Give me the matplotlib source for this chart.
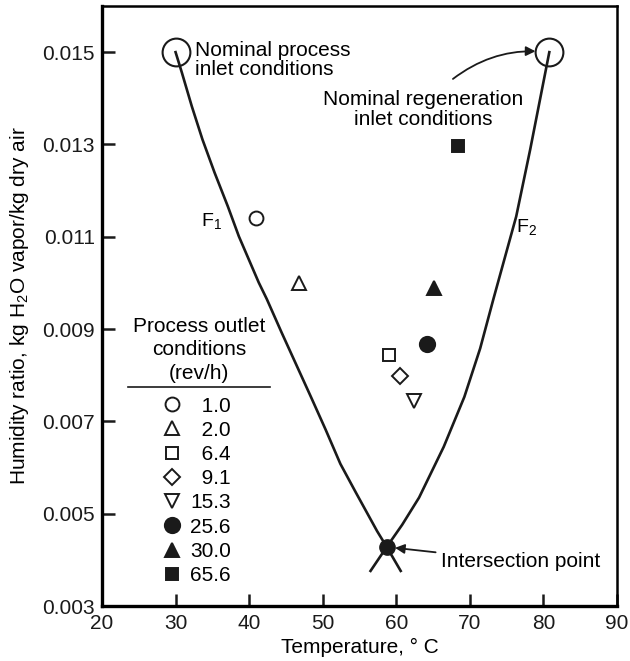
import matplotlib
matplotlib.use("Agg")
import matplotlib.pyplot as plt
from matplotlib.lines import Line2D

plt.rcParams['font.family'] = ['Liberation Sans', 'DejaVu Sans']
plt.rcParams['mathtext.fontset'] = 'custom'
plt.rcParams['mathtext.rm'] = 'Liberation Sans'
plt.rcParams['font.size'] = 15

# ---- data ----
# curve F1 (process side)
f1_temp = [30.0, 30.85, 32.2, 33.65, 35.3, 37.1, 38.6, 41.3, 42.4, 44.4, 46.4,
           48.4, 50.4, 52.4, 54.5, 57.4, 58.7, 60.6]
f1_hum = [0.0150, 0.01456, 0.01383, 0.01311, 0.01239, 0.01166, 0.01101, 0.01001, 0.00965,
          0.00893, 0.00823, 0.00753, 0.00682, 0.00608, 0.00546, 0.00462, 0.00428, 0.00376]

# curve F2 (regeneration side)
f2_temp = [80.8, 78.2, 76.3, 73.2, 71.4, 69.25, 66.45, 63.1, 60.8, 58.7, 56.5]
f2_hum = [0.0150, 0.01289, 0.01144, 0.00965, 0.00858, 0.00753, 0.00645, 0.00535,
          0.00476, 0.00428, 0.00376]

# nominal inlet states and intersection
process_inlet = (30.0, 0.0150)
regen_inlet = (80.8, 0.0150)
intersection = (58.7, 0.00428)

# process outlet conditions
rev_per_h = ["1.0", "2.0", "6.4", "9.1", "15.3", "25.6", "30.0", "65.6"]
out_temp = [40.9, 46.8, 59.05, 60.55, 62.4, 64.2, 65.1, 68.4]
out_hum = [0.0114, 0.0100, 0.00843, 0.00799, 0.00744, 0.00868, 0.00988, 0.01296]
out_marker = ['o', '^', 's', 'D', 'v', 'o', '^', 's']
out_filled = [False, False, False, False, False, True, True, True]
out_size = [10, 9.5, 9, 8.5, 9.5, 11, 9.5, 9]

ink = '#1a1a1a'

fig = plt.figure(figsize=(6.3, 6.61), dpi=100)
ax = fig.add_axes([102 / 630, 55 / 661, 515 / 630, 600 / 661])

# ── curves ──
ax.plot(f1_temp, f1_hum, color=ink, lw=1.9, zorder=2)
ax.plot(f2_temp, f2_hum, color=ink, lw=1.9, zorder=2)

# ── big open circles for inlet states ──
for pt in (process_inlet, regen_inlet):
    ax.plot(pt[0], pt[1], 'o', ms=20, mfc='none', mec=ink, mew=1.5, zorder=3)

ax.plot(intersection[0], intersection[1], 'o', ms=11, color=ink, zorder=4)

# ── outlet points ──
handles = []
labels = []
for t, h, m, filled, ms, lab in zip(out_temp, out_hum, out_marker, out_filled, out_size, rev_per_h):
    fc = ink if filled else 'white'
    ln, = ax.plot(t, h, m, ms=ms, mfc=fc, mec=ink, mew=1.4, ls='none', zorder=4)
    handles.append(ln)
    # figure spaces so the numbers line up on the right
    labels.append('\u2007' * (4 - len(lab)) + lab)

ax.text(0.188, 0.427, "Process outlet\nconditions\n(rev/h)", transform=ax.transAxes,
        ha='center', va='center', multialignment='center', linespacing=1.3)
ax.add_line(Line2D([0.05, 0.326], [0.365, 0.365], transform=ax.transAxes,
                   color=ink, lw=1.2))
leg = ax.legend(handles, labels, loc='upper left', bbox_to_anchor=(0.108, 0.356),
                frameon=False, handlelength=1.0, handletextpad=0.35, labelspacing=0.25,
                borderpad=0.2, borderaxespad=0.0, fontsize=15, markerscale=1.0)

# ── text labels ──
ax.text(32.6, 0.01483, "Nominal process\ninlet conditions", ha='left', va='center',
        linespacing=1.05)
ax.text(63.6, 0.01376, "Nominal regeneration\ninlet conditions", ha='center', va='center',
        multialignment='center', linespacing=1.1)
ax.annotate('', xy=regen_inlet, xytext=(67.7, 0.01442),
            arrowprops=dict(arrowstyle='-|>', color=ink, lw=1.3,
                            connectionstyle='arc3,rad=-0.2', shrinkA=0, shrinkB=10,
                            mutation_scale=14))
ax.annotate("Intersection point", xy=intersection, xytext=(66.1, 0.00396),
            ha='left', va='center',
            arrowprops=dict(arrowstyle='-|>', color=ink, lw=1.3,
                            shrinkA=2, shrinkB=6, mutation_scale=14))
ax.text(34.9, 0.01133, "F$_1$", ha='center', va='center', fontsize=14)
ax.text(77.7, 0.0112, "F$_2$", ha='center', va='center', fontsize=14)

# ── axes ──
ax.set_xlim(20, 90)
ax.set_ylim(0.003, 0.0160)
ax.set_xticks([20, 30, 40, 50, 60, 70, 80, 90])
ax.set_yticks([0.003, 0.005, 0.007, 0.009, 0.011, 0.013, 0.015])
ax.set_yticklabels(['0.003', '0.005', '0.007', '0.009', '0.011', '0.013', '0.015'])
ax.tick_params(direction='in', length=9, width=1.8, labelsize=15, colors=ink)
ax.tick_params(axis='y', pad=5)
ax.tick_params(axis='x', pad=6)
for side in ['left', 'bottom']:
    ax.spines[side].set_linewidth(2.4)
for side in ['top', 'right']:
    ax.spines[side].set_linewidth(1.8)
ax.set_xlabel("Temperature, ° C", labelpad=3)
ax.set_ylabel("Humidity ratio, kg H$_2$O vapor/kg dry air", labelpad=8)

fig.savefig("out.png", dpi=100)
